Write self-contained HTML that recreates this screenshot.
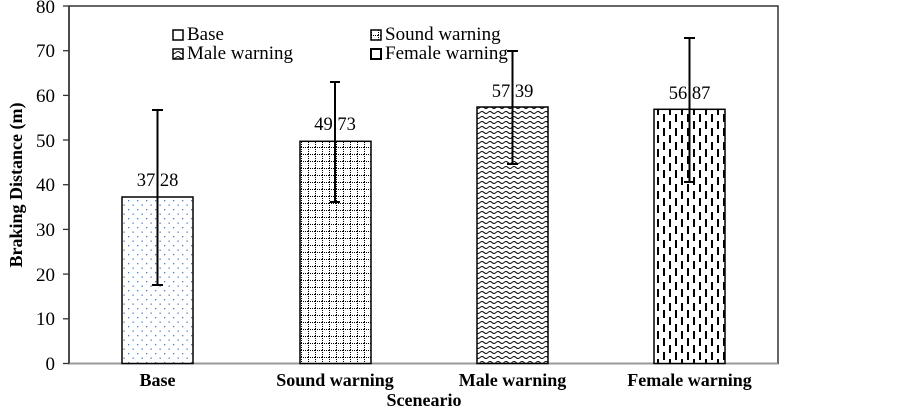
<!DOCTYPE html>
<html><head><style>body{margin:0;background:#fff}svg{display:block}</style></head><body>
<svg width="903" height="409" xmlns="http://www.w3.org/2000/svg" font-family="Liberation Serif, serif">
<defs>
<pattern id="dots" width="9" height="9" patternUnits="userSpaceOnUse"><rect width="9" height="9" fill="#fff"/><rect x="2" y="2" width="1.3" height="1.3" fill="#4a7fc0"/><rect x="6.5" y="6.5" width="1.3" height="1.3" fill="#4a7fc0"/></pattern>
<pattern id="grid" width="7" height="7" patternUnits="userSpaceOnUse"><rect width="7" height="7" fill="#fff"/><path d="M0 0.5H7M0.5 0V7" stroke="#000" stroke-width="1" stroke-dasharray="1 1"/></pattern>
<pattern id="wave" width="8" height="5" patternUnits="userSpaceOnUse"><rect width="8" height="5" fill="#fff"/><path d="M0 2.5 Q2 0.5 4 2.5 T8 2.5" stroke="#000" stroke-width="1" fill="none"/></pattern>
<pattern id="dash" width="12" height="14" patternUnits="userSpaceOnUse"><rect width="12" height="14" fill="#fff"/><rect x="3" y="2" width="2" height="8" fill="#000"/><rect x="9" y="9" width="2" height="8" fill="#000"/><rect x="9" y="-5" width="2" height="8" fill="#000"/></pattern>
</defs>
<rect x="69" y="6" width="709" height="357.5" fill="none" stroke="#333" stroke-width="1.5"/>
<line x1="69" y1="363.5" x2="778" y2="363.5" stroke="#999" stroke-width="1.5"/>
<line x1="69" y1="6" x2="69" y2="363.5" stroke="#333" stroke-width="1.5"/>
<g stroke="#333" stroke-width="1.3">
<line x1="63" y1="6" x2="69" y2="6"/><line x1="63" y1="50.7" x2="69" y2="50.7"/><line x1="63" y1="95.4" x2="69" y2="95.4"/><line x1="63" y1="140" x2="69" y2="140"/><line x1="63" y1="184.7" x2="69" y2="184.7"/><line x1="63" y1="229.4" x2="69" y2="229.4"/><line x1="63" y1="274.1" x2="69" y2="274.1"/><line x1="63" y1="318.8" x2="69" y2="318.8"/><line x1="63" y1="363.5" x2="69" y2="363.5"/>
</g>
<g font-size="19" text-anchor="end" fill="#000">
<text x="55" y="13">80</text><text x="55" y="57">70</text><text x="55" y="102">60</text><text x="55" y="147">50</text><text x="55" y="191">40</text><text x="55" y="236">30</text><text x="55" y="281">20</text><text x="55" y="325">10</text><text x="55" y="370">0</text>
</g>
<text transform="translate(22,185) rotate(-90)" font-size="18" font-weight="bold" text-anchor="middle">Braking Distance (m)</text>
<rect x="122" y="197" width="71" height="166.5" fill="url(#dots)" stroke="#000" stroke-width="1.5"/>
<rect x="300" y="141.3" width="71" height="222.2" fill="url(#grid)" stroke="#000" stroke-width="1.5"/>
<rect x="477" y="107" width="71" height="256.5" fill="url(#wave)" stroke="#000" stroke-width="1.5"/>
<rect x="654" y="109.3" width="71" height="254.2" fill="url(#dash)" stroke="#000" stroke-width="1.5"/>
<g stroke="#000" stroke-width="2">
<line x1="157.5" y1="110" x2="157.5" y2="285"/><line x1="152" y1="110" x2="163" y2="110"/><line x1="152" y1="285" x2="163" y2="285"/>
<line x1="335" y1="82" x2="335" y2="202"/><line x1="330" y1="82" x2="340" y2="82"/><line x1="330" y1="202" x2="340" y2="202"/>
<line x1="512.5" y1="51" x2="512.5" y2="164"/><line x1="507" y1="51" x2="518" y2="51"/><line x1="507" y1="164" x2="518" y2="164"/>
<line x1="689.5" y1="38" x2="689.5" y2="182"/><line x1="684" y1="38" x2="695" y2="38"/><line x1="684" y1="182" x2="695" y2="182"/>
</g>
<g font-size="18.5" text-anchor="middle">
<text x="157.5" y="186">37.28</text><text x="335" y="130">49.73</text><text x="512.5" y="97">57.39</text><text x="689.5" y="99">56.87</text>
</g>
<g font-size="19">
<rect x="173" y="30" width="10" height="10" fill="#fff" stroke="#000" stroke-width="1.5"/><text x="187" y="40">Base</text>
<rect x="371" y="30" width="10" height="10" fill="url(#grid)" stroke="#000" stroke-width="1.5"/><text x="385" y="40">Sound warning</text>
<rect x="173" y="49" width="10" height="10" fill="url(#wave)" stroke="#000" stroke-width="1.5"/><text x="187" y="59">Male warning</text>
<rect x="371" y="49" width="10" height="10" fill="#fff" stroke="#000" stroke-width="2"/><text x="385" y="59">Female warning</text>
</g>
<g font-size="18" font-weight="bold" text-anchor="middle">
<text x="157.5" y="386">Base</text><text x="335" y="386">Sound warning</text><text x="512.5" y="386">Male warning</text><text x="689.5" y="386">Female warning</text>
<text x="424" y="406">Sceneario</text>
</g>
</svg>
</body></html>
